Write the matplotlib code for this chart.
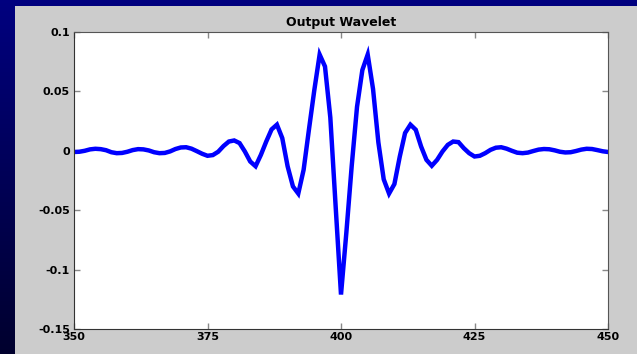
import numpy as np
import matplotlib
matplotlib.use("Agg")
import matplotlib.pyplot as plt
from matplotlib.patches import Rectangle

# Sample index (time) and wavelet amplitude
samples = list(range(350, 451))
amplitude = [
    -0.0010, -0.0008, 0.0000, 0.0012, 0.0017, 0.0014, 0.0005, -0.0012, -0.0020, -0.0018,  # 350-359
    -0.0008, 0.0006, 0.0014, 0.0012, 0.0003, -0.0012, -0.0020, -0.0018, -0.0005, 0.0015,   # 360-369
    0.0028, 0.0030, 0.0018, -0.0003, -0.0025, -0.0042, -0.0036, -0.0008, 0.0040, 0.0078,   # 370-379
    0.0087, 0.0065, -0.0006, -0.0090, -0.0130, -0.0034, 0.0078, 0.0180, 0.0220, 0.0107,    # 380-389
    -0.0130, -0.0300, -0.0360, -0.0160, 0.0180, 0.0510, 0.0810, 0.0710, 0.0280, -0.0470,   # 390-399
    -0.1210, -0.0690, -0.0130, 0.0370, 0.0680, 0.0810, 0.0520, 0.0070, -0.0240, -0.0360,   # 400-409
    -0.0280, -0.0050, 0.0150, 0.0220, 0.0177, 0.0036, -0.0076, -0.0126, -0.0076, -0.0006,  # 410-419
    0.0050, 0.0078, 0.0073, 0.0022, -0.0020, -0.0048, -0.0042, -0.0020, 0.0008, 0.0026,    # 420-429
    0.0030, 0.0018, 0.0000, -0.0016, -0.0020, -0.0015, -0.0002, 0.0010, 0.0015, 0.0013,    # 430-439
    0.0004, -0.0008, -0.0014, -0.0012, -0.0002, 0.0010, 0.0017, 0.0015, 0.0006, -0.0004,   # 440-449
    -0.0010,                                                                                 # 450
]

x_ticks = [350, 375, 400, 425, 450]
x_tick_labels = ["350", "375", "400", "425", "450"]
y_ticks = [-0.15, -0.1, -0.05, 0, 0.05, 0.1]
y_tick_labels = ["-0.15", "-0.1", "-0.05", "0", "0.05", "0.1"]

plt.rcParams["font.family"] = ["DejaVu Sans"]

W, H = 637, 354
fig = plt.figure(figsize=(W / 100, H / 100), dpi=100)

# Navy slide background with a vertical gradient
bg = fig.add_axes([0, 0, 1, 1], zorder=-10)
grad = np.linspace(0, 1, 256).reshape(-1, 1)
top_col = np.array([0.0, 0.0, 0.50])
bot_col = np.array([0.0, 0.0, 0.18])
img = top_col[None, None, :] * (1 - grad[:, :, None]) + bot_col[None, None, :] * grad[:, :, None]
bg.imshow(img, aspect="auto", extent=[0, 1, 0, 1], origin="upper")
bg.set_xlim(0, 1)
bg.set_ylim(0, 1)
bg.axis("off")

# Gray figure panel
fig.patches.append(Rectangle((15 / W, 0), 1 - 15 / W, (H - 6) / H,
                             transform=fig.transFigure, facecolor="#cccccc",
                             edgecolor="none", zorder=-5))

ax = fig.add_axes([74 / W, (H - 329) / H, (608 - 74) / W, (329 - 32) / H])
ax.set_facecolor("white")
ax.plot(samples, amplitude, color="#0000ff", linewidth=3.2, solid_joinstyle="miter")

ax.set_xlim(350, 450)
ax.set_ylim(-0.15, 0.1)
ax.set_xticks(x_ticks)
ax.set_xticklabels(x_tick_labels)
ax.set_yticks(y_ticks)
ax.set_yticklabels(y_tick_labels)

for lab in ax.get_xticklabels() + ax.get_yticklabels():
    lab.set_fontweight("bold")
    lab.set_fontsize(8)
    lab.set_color("black")

ax.tick_params(direction="in", length=4, width=1, color="#888888", pad=2)
ax.tick_params(axis="y", pad=3)
ax.tick_params(top=True, right=True)
for side in ["left", "bottom"]:
    ax.spines[side].set_color("#333333")
for side in ["top", "right"]:
    ax.spines[side].set_color("#555555")

ax.set_title("Output Wavelet", fontsize=9, fontweight="bold", pad=4)

fig.savefig("out.png", dpi=100)
